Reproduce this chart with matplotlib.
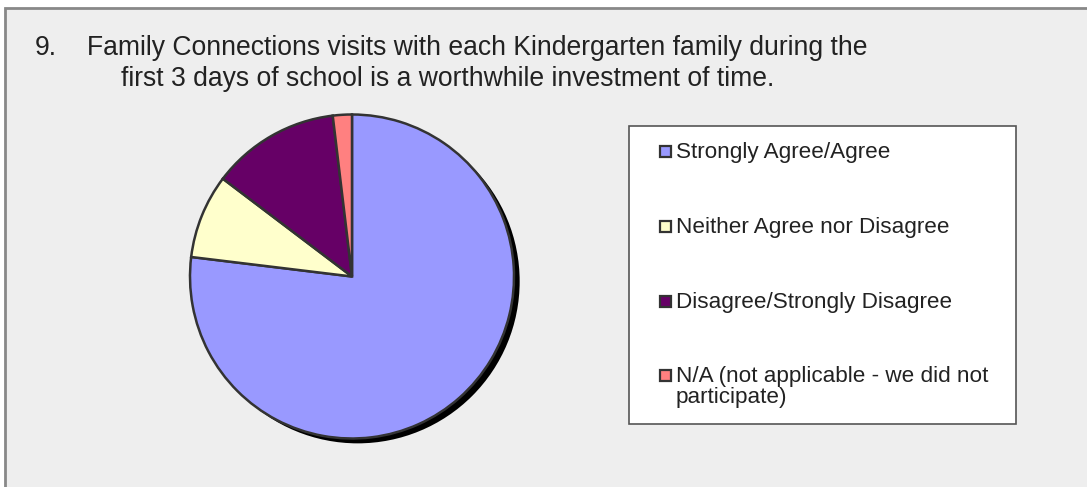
import matplotlib
matplotlib.use("Agg")
import matplotlib.pyplot as plt
from matplotlib.patches import Rectangle, Circle
from matplotlib.transforms import Affine2D

categories = ["Strongly Agree/Agree", "Neither Agree nor Disagree",
              "Disagree/Strongly Disagree",
              "N/A (not applicable - we did not\nparticipate)"]
values = [77.0, 8.4, 12.8, 1.9]
colors = ["#9999FF", "#FFFFCC", "#660066", "#FF8080"]
title_num = "9."
title_lines = ["Family Connections visits with each Kindergarten family during the",
               "first 3 days of school is a worthwhile investment of time."]

W, H = 1087, 487
plt.rcParams['font.family'] = ['Liberation Sans', 'DejaVu Sans']
fig = plt.figure(figsize=(W / 100, H / 100), dpi=100)
fig.patch.set_facecolor("#FFFFFF")

# pixel transform (origin top-left)
px = Affine2D().scale(1 / W, -1 / H).translate(0, 1) + fig.transFigure

# outer panel
fig.patches.append(Rectangle((5, 8), W + 10, H + 10, transform=px, zorder=-10,
                             facecolor="#EEEEEE", edgecolor="#888888", linewidth=2))

# title
tc = "#222222"
fs_t = 19.1
fig.text(35, 55, title_num, transform=px, fontsize=fs_t, color=tc, va="baseline")
fig.text(87, 55, title_lines[0], transform=px, fontsize=fs_t, color=tc, va="baseline")
fig.text(121, 86.5, title_lines[1], transform=px, fontsize=fs_t, color=tc, va="baseline")

# pie
cx, cy, R = 352, 276.5, 162
half = 170
ax = fig.add_axes([(cx - half) / W, (H - cy - half) / H, 2 * half / W, 2 * half / H])
ax.set_zorder(1)
ax.patch.set_visible(False)
ax.add_patch(Circle((0.035, -0.03), 1.0, facecolor="black", edgecolor="none", zorder=0))
ax.pie(values, colors=colors, startangle=90, counterclock=False, radius=1.0,
       wedgeprops=dict(edgecolor="#333333", linewidth=1.8))
ax.set_xlim(-half / R, half / R)
ax.set_ylim(-half / R, half / R)
ax.set_aspect("equal")
ax.axis("off")

# legend
fig.patches.append(Rectangle((629, 126), 387, 298, transform=px, zorder=2,
                             facecolor="white", edgecolor="#555555", linewidth=1.2))
baselines = [157.7, 233.3, 308.3, 381.7]
line_px = 21.6
for lab, col, b in zip(categories, colors, baselines):
    fig.patches.append(Rectangle((660, b - 12), 11, 11, transform=px, zorder=3,
                                 facecolor=col, edgecolor="#333333", linewidth=1.6))
    n = lab.count("\n")
    fig.text(676, b + n * line_px, lab, transform=px, fontsize=16.2, color=tc,
             va="baseline", linespacing=1.02, zorder=4)

fig.savefig("out.png", dpi=100, facecolor=fig.get_facecolor())
